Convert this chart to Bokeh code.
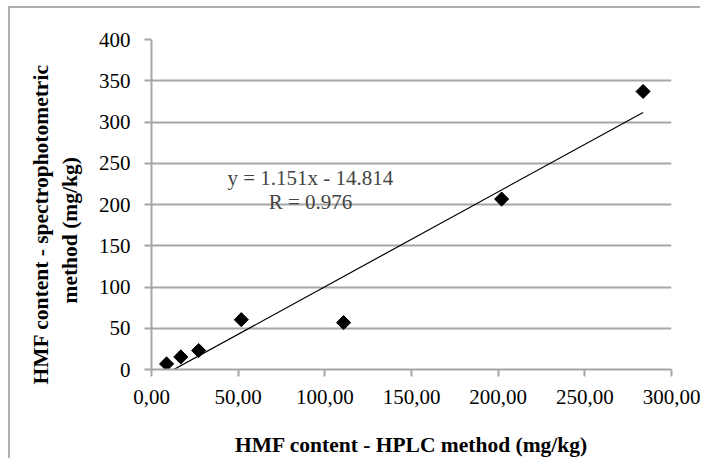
import math
from bokeh.plotting import figure
from bokeh.models import ColumnDataSource, Label, Title, FixedTicker, CustomJSTickFormatter
from bokeh.embed import file_html
from bokeh.resources import INLINE

# Data
hplc = [8.7, 16.9, 27.2, 51.8, 110.8, 202.0, 283.6]
spectro = [6.8, 15.3, 23.0, 60.4, 56.8, 206.6, 337.0]
slope = 1.151
intercept = -14.814
r_value = 0.976
x_ticks = [0, 50, 100, 150, 200, 250, 300]
y_ticks = [0, 50, 100, 150, 200, 250, 300, 350, 400]
x_title = "HMF content - HPLC method (mg/kg)"
y_title_lines = ["HMF content - spectrophotometric", "method (mg/kg)"]

FONT = "'Liberation Serif', 'Times New Roman', serif"
GRID = "#a6a6a6"
W, H = 692, 452

p = figure(width=W, height=H, output_backend="svg", toolbar_location=None,
           x_range=(0, 300), y_range=(0, 400),
           min_border_left=141, min_border_right=31, min_border_top=31, min_border_bottom=91)
p.styles = {"margin-left": "8px", "margin-top": "6px",
            "border-left": "2px solid #b0b0b0", "border-top": "2px solid #b0b0b0"}
p.outline_line_color = None
p.background_fill_color = "white"
p.border_fill_color = "white"

# grids
p.xgrid.visible = False
p.ygrid.grid_line_color = GRID
p.ygrid.grid_line_width = 2
p.ygrid.ticker = FixedTicker(ticks=y_ticks)

# axes
p.xaxis.ticker = FixedTicker(ticks=x_ticks)
p.yaxis.ticker = FixedTicker(ticks=y_ticks)
p.xaxis.formatter = CustomJSTickFormatter(code="return tick.toFixed(2).replace('.', ',');")
for ax in (p.xaxis[0], p.yaxis[0]):
    ax.axis_line_color = GRID
    ax.axis_line_width = 2
    ax.major_tick_line_color = GRID
    ax.major_tick_line_width = 2
    ax.major_tick_out = 7
    ax.major_tick_in = 0
    ax.minor_tick_line_color = None
    ax.major_label_text_font = FONT
    ax.major_label_text_font_size = "21px"
    ax.major_label_text_color = "black"
    ax.axis_label_text_font = FONT
    ax.axis_label_text_font_size = "21.5px"
    ax.axis_label_text_font_style = "bold"
    ax.axis_label_text_color = "black"

p.xaxis.axis_label = x_title
p.xaxis.axis_label_standoff = 26
p.xaxis.major_label_standoff = 13
p.yaxis.major_label_standoff = 14
# tiny spacer label to push the side titles outward
p.yaxis.axis_label = " "
p.yaxis.axis_label_text_font_size = "1px"
p.yaxis.axis_label_standoff = 6

# y-axis title as two stacked side titles
p.add_layout(Title(text=y_title_lines[1], align="left", offset=66, standoff=7,
                   text_font=FONT, text_font_size="21.5px", text_font_style="bold",
                   text_color="black"), "left")
p.add_layout(Title(text=y_title_lines[0], align="left", offset=-15, standoff=0,
                   text_font=FONT, text_font_size="21.5px", text_font_style="bold",
                   text_color="black"), "left")

# trendline over the data's x range
x0, x1 = min(hplc), max(hplc)
p.line([x0, x1], [slope * x0 + intercept, slope * x1 + intercept],
       line_color="black", line_width=1.2)

# points
src = ColumnDataSource(dict(x=hplc, y=spectro))
p.scatter("x", "y", source=src, marker="square", angle=math.pi / 4, size=10,
          fill_color="black", line_color="black")

# equation labels
eq_text = f"y = {slope}x - {abs(intercept)}"
r_text = f"R = {r_value}"
p.add_layout(Label(x=91.7, y=232.7, text=eq_text, text_font=FONT,
                   text_font_size="21px", text_align="center", text_baseline="middle"))
p.add_layout(Label(x=91.7, y=203.6, text=r_text, text_font=FONT,
                   text_font_size="21px", text_align="center", text_baseline="middle"))

open("out.html", "w").write(file_html(p, INLINE))
